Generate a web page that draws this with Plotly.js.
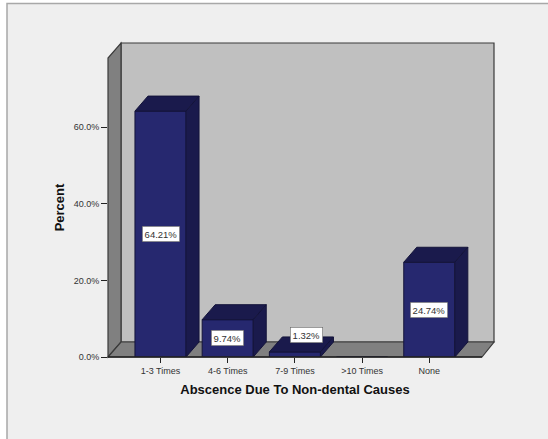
<!DOCTYPE html>
<html>
<head>
<meta charset="utf-8">
<script src="https://cdn.plot.ly/plotly-3.0.1.min.js"></script>
<style>html,body{margin:0;padding:0;background:#fff;}#chart{width:548px;height:439px;}</style>
</head>
<body>
<div id="chart"></div>
<script>
const categories = ['1-3 Times', '4-6 Times', '7-9 Times', '>10 Times', 'None'];
const percents = [64.21, 9.74, 1.32, 0, 24.74];
const yTickValues = [0, 20, 40, 60];
const yTickLabels = ['0.0%', '20.0%', '40.0%', '60.0%'];
const xTitle = 'Abscence Due To Non-dental Causes';
const yTitle = 'Percent';

// Page geometry of the pseudo-3D chart box, in pixels. The axes span the
// front plane; the back wall is offset from it by the depth values.
const W = 548, H = 439;
const frontLeft = 108, frontRight = 482, frontTop = 58, frontBottom = 357;
const depthX = 13, depthY = 15;
const pxPerCategory = 67.2, pxPerPercent = 3.83, firstCenter = 160.5;

const xRange = [(frontLeft - firstCenter) / pxPerCategory, (frontRight - firstCenter) / pxPerCategory];
const yRange = [0, (frontBottom - frontTop) / pxPerPercent];
const dx = depthX / pxPerCategory, dy = depthY / pxPerPercent;
const barWidth = 0.76;

const FONT = '"Liberation Sans", Arial, sans-serif';
const FRONT = '#26286f', SHADE = '#1a1a4c', EDGE = '#14143a';

const xp = x => (x - frontLeft) / (frontRight - frontLeft);
const yp = y => (frontBottom - y) / (frontBottom - frontTop);

function wall(points, fill) {
  const path = points.map((p, i) => (i ? 'L' : 'M') + xp(p[0]) + ',' + yp(p[1])).join(' ') + ' Z';
  return { type: 'path', xref: 'paper', yref: 'paper', path, fillcolor: fill,
           line: { color: '#3a3a3a', width: 1.2 }, layer: 'below' };
}

const backL = frontLeft + depthX, backR = frontRight + depthX - 1;
const backT = frontTop - depthY, backB = frontBottom - depthY;

const shapes = [
  // outer chart frame
  { type: 'rect', xref: 'paper', yref: 'paper', layer: 'below',
    x0: xp(7), x1: xp(560), y0: yp(3.5), y1: yp(460),
    fillcolor: '#efefef', line: { color: '#a8a8a8', width: 1.5 } },
  wall([[backL, backT], [backR, backT], [backR, backB], [backL, backB]], '#c0c0c0'),
  wall([[frontLeft, frontBottom], [backL, backB], [backL, backT], [frontLeft, frontTop]], '#808080'),
  wall([[frontLeft, frontBottom], [frontRight, frontBottom], [backR, backB], [backL, backB]], '#808080'),
  { type: 'line', xref: 'paper', yref: 'paper', x0: 0, x1: 1, y0: 0, y1: 0,
    line: { color: '#222', width: 1.5 } }
];

// Front faces come from the bar trace; top and side faces follow the same values.
const traces = [{
  type: 'bar', x: categories.map((_, i) => i), y: percents, width: barWidth,
  marker: { color: FRONT, line: { color: EDGE, width: 1 } }, hoverinfo: 'skip'
}];
percents.forEach((v, i) => {
  if (!v) return;
  const a = i - barWidth / 2, b = i + barWidth / 2;
  traces.push({
    type: 'scatter', mode: 'lines', fill: 'toself', fillcolor: SHADE, cliponaxis: false,
    line: { color: EDGE, width: 1 }, hoverinfo: 'skip',
    x: [a, a + dx, b + dx, b, a], y: [v, v + dy, v + dy, v, v]
  });
  traces.push({
    type: 'scatter', mode: 'lines', fill: 'toself', fillcolor: SHADE, cliponaxis: false,
    line: { color: EDGE, width: 1 }, hoverinfo: 'skip',
    x: [b, b + dx, b + dx, b, b], y: [0, dy, v + dy, v, 0]
  });
});

// Value tags sit mid-bar, except the short bar whose tag rides above it.
const annotations = percents.map((v, i) => {
  if (!v) return null;
  const small = v < 5;
  return {
    x: i, y: v / 2, xref: 'x', yref: 'y', showarrow: false,
    xshift: small ? 12 : 0, yshift: small ? 19 : 0,
    text: v.toFixed(2) + '%',
    font: { family: FONT, size: 9.5, color: '#333' },
    bgcolor: '#fff', bordercolor: '#666', borderwidth: 0.6, borderpad: 2
  };
}).filter(Boolean);

const layout = {
  width: W, height: H, showlegend: false, autosize: false,
  paper_bgcolor: '#fff', plot_bgcolor: 'rgba(0,0,0,0)',
  margin: { l: frontLeft, r: W - frontRight, t: frontTop, b: H - frontBottom, pad: 0 },
  xaxis: {
    range: xRange, tickmode: 'array', tickvals: categories.map((_, i) => i), ticktext: categories,
    ticks: 'outside', ticklen: 5, tickwidth: 1, tickcolor: '#222', showgrid: false, zeroline: false, showline: false,
    tickfont: { family: FONT, size: 9, color: '#333' },
    title: { text: xTitle, standoff: 10, font: { family: FONT, size: 13, color: '#111', weight: 'bold' } }
  },
  yaxis: {
    range: yRange, tickmode: 'array', tickvals: yTickValues, ticktext: yTickLabels,
    ticks: 'outside', ticklen: 6, tickwidth: 1, tickcolor: '#222', showgrid: false, zeroline: false, showline: false,
    tickfont: { family: FONT, size: 9, color: '#333' },
    title: { text: yTitle, standoff: 6, font: { family: FONT, size: 13, color: '#111', weight: 'bold' } }
  },
  shapes, annotations
};

Plotly.newPlot('chart', traces, layout, { displayModeBar: false, staticPlot: true });
</script>
</body>
</html>
